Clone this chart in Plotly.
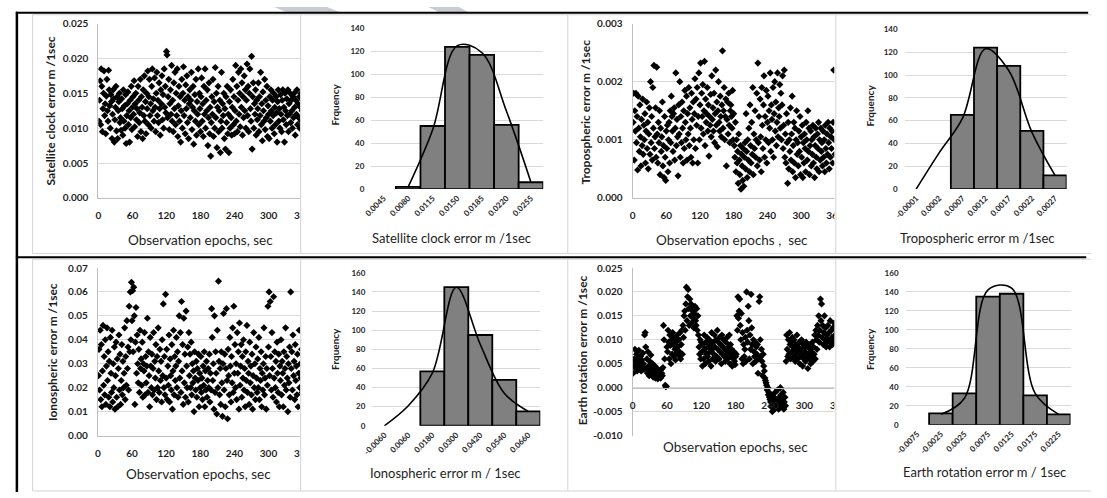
import plotly.graph_objects as go

# ---------------- data ----------------
epochs = list(range(1, 361))

# satellite clock error, units of 1e-4 m
sat_clock_e4 = [
    110,140,168,105,185,160,95,128,150,182,118,135,92,146,170,125,110,183,155,132,
    100,148,138,85,120,155,142,80,112,130,160,96,145,85,125,138,150,108,115,97,
    142,128,90,155,110,132,100,148,78,118,135,152,105,125,80,140,115,160,98,130,
    145,120,168,102,135,150,112,128,88,160,140,108,122,170,95,145,130,85,155,118,
    175,110,138,92,150,128,182,105,145,170,118,135,100,160,185,125,142,110,172,130,
    95,150,180,118,140,108,165,128,90,155,135,175,112,148,100,185,130,160,122,210,
    205,115,145,170,98,135,155,120,190,110,140,95,165,128,180,105,150,118,185,88,
    132,160,110,145,80,125,170,100,150,188,118,140,92,162,128,175,108,145,85,135,
    155,115,140,180,98,130,160,77,125,148,110,170,90,138,120,185,105,150,128,95,
    145,172,110,135,88,160,120,185,100,140,125,155,75,115,165,92,130,60,108,145,
    120,170,88,138,100,187,115,150,72,130,160,95,125,140,65,110,180,100,135,118,
    150,85,128,70,145,108,160,92,120,65,138,100,155,115,90,130,170,105,145,92,
    125,190,110,160,95,140,180,120,150,102,185,130,165,90,145,115,175,125,155,100,
    140,192,118,160,95,150,185,128,110,203,70,145,165,100,135,120,155,90,140,112,
    128,165,95,145,118,180,105,135,82,152,125,110,170,98,140,115,160,88,132,120,
    85,145,110,155,125,100,140,118,150,92,130,105,145,122,80,138,155,110,128,100,
    148,120,95,140,155,112,130,80,150,125,105,142,118,155,95,135,120,150,108,140,
    125,100,145,115,150,130,90,140,120,155,105,135,115,145,100,130,150,110,125,140,
]

# tropospheric error, units of 1e-5 m
tropo_e5 = [
    130,180,65,150,115,180,95,140,48,175,120,80,160,105,55,135,90,170,75,125,
    100,145,60,115,165,85,130,50,110,155,75,200,95,140,65,190,120,228,85,105,
    155,70,225,110,60,130,95,150,40,120,80,105,165,55,90,35,140,70,30,115,
    85,125,45,100,130,60,150,95,175,140,115,80,145,155,65,120,215,90,135,105,
    38,160,110,200,70,140,95,165,120,60,150,85,185,130,100,175,65,145,110,190,
    90,155,120,70,180,135,60,165,100,145,205,85,170,125,190,60,140,215,100,160,
    232,120,180,140,195,110,150,235,90,170,130,145,190,115,160,72,140,125,178,105,
    210,135,155,115,180,95,145,220,125,165,88,150,200,130,115,175,140,105,160,253,
    120,150,190,100,140,170,55,135,165,110,180,125,95,150,160,140,120,185,100,145,
    90,70,130,45,100,60,80,25,110,65,40,90,15,75,55,30,85,20,70,95,
    50,145,80,35,100,65,120,45,160,90,60,130,75,190,40,110,85,150,70,100,
    180,55,232,95,140,65,170,105,45,190,125,85,160,210,70,140,100,185,60,130,
    175,95,150,120,215,80,160,135,100,190,70,145,200,115,165,90,130,215,105,155,
    140,195,120,180,100,160,210,85,125,220,70,110,60,145,95,25,130,50,100,80,
    155,65,110,175,45,90,130,60,120,35,100,150,75,95,55,115,80,140,40,105,
    70,125,35,95,60,110,85,45,130,100,65,150,80,120,40,90,115,55,100,75,
    125,60,105,35,90,120,70,50,110,85,130,45,100,65,120,80,95,55,115,70,
    100,45,125,85,60,110,75,130,95,50,120,70,105,85,115,60,130,220,100,75,
]

# ionospheric error, units of 1e-4 m
iono_e4 = [
    250,360,190,440,150,380,120,270,460,210,330,170,400,130,290,450,230,350,160,310,
    120,410,260,180,440,140,300,200,370,110,250,390,160,320,120,280,420,190,340,130,
    230,380,170,310,200,260,450,150,330,210,480,280,370,190,540,350,600,400,640,480,
    605,350,620,500,130,390,535,260,420,300,220,360,180,440,280,320,210,390,160,300,
    270,430,170,330,220,290,490,180,350,250,120,410,290,200,340,170,280,430,190,310,
    240,380,150,330,200,450,270,180,360,230,310,140,400,250,550,200,330,170,590,240,
    360,150,290,210,420,140,320,250,190,380,110,270,440,170,330,230,290,410,200,350,
    160,310,500,240,430,180,560,270,380,130,490,220,340,160,520,290,200,370,140,430,
    250,340,200,390,170,300,220,270,100,350,240,190,310,160,280,230,340,120,260,200,
    330,180,240,150,290,210,350,120,270,190,310,160,230,280,200,340,140,260,190,530,
    410,230,300,110,500,180,350,260,90,440,200,645,310,170,280,130,350,220,80,300,
    510,190,340,120,280,530,230,70,360,250,170,410,290,140,330,220,450,180,540,260,
    380,200,300,150,430,260,350,110,470,210,290,380,160,330,240,400,190,280,120,350,
    230,460,180,310,260,130,390,220,290,170,340,110,250,430,200,300,150,370,240,180,
    320,200,410,150,280,230,350,120,260,190,300,450,170,240,330,110,280,210,540,370,
    600,250,560,330,190,430,280,160,580,240,350,200,310,140,390,260,180,340,120,290,
    230,400,170,310,260,120,350,210,280,450,190,330,240,100,300,220,370,160,600,280,
    350,190,420,250,310,150,380,230,290,170,340,120,260,440,200,300,240,360,180,270,
]

# earth rotation error, units of 1e-4 m
earth_e4 = [
    30,45,60,80,55,40,70,35,62,48,78,52,40,65,35,58,44,72,50,38,
    110,115,85,40,60,30,75,45,25,55,35,68,42,28,50,22,36,30,45,20,
    32,26,40,18,30,24,35,28,20,38,30,25,42,130,100,60,5,2,3,85,
    75,120,95,60,110,88,50,100,70,115,90,65,105,80,58,95,72,110,85,68,
    100,75,115,60,90,120,70,130,105,150,160,120,175,210,140,190,205,165,130,185,
    150,175,135,170,160,145,125,155,170,140,130,165,120,150,110,85,70,100,60,95,
    75,45,90,60,110,80,50,95,70,105,65,85,55,100,75,90,45,115,80,60,
    95,70,110,85,55,100,65,120,80,95,60,105,75,90,50,110,70,85,100,65,
    80,55,95,70,105,60,85,75,110,50,90,65,80,45,70,60,75,55,48,65,
    70,150,120,190,145,160,185,130,100,155,60,115,50,90,65,80,105,55,200,120,
    95,170,140,60,110,80,195,125,90,50,100,75,65,95,55,85,70,90,30,60,
    180,190,100,65,80,55,25,70,45,35,20,15,10,5,-5,0,-15,-10,-20,-25,
    -30,-40,-15,-50,-25,-35,-20,-45,-10,-30,-40,-25,-5,-35,-45,-20,-30,0,-15,-40,
    -25,-35,-10,-45,-30,-20,-38,55,110,80,65,100,70,115,90,60,95,75,105,85,
    65,100,80,55,90,70,110,60,85,75,95,50,80,65,100,70,45,90,60,85,
    75,55,95,65,85,40,70,90,60,80,50,75,65,95,55,85,70,110,60,120,
    100,80,130,110,150,95,120,185,140,175,105,130,90,115,150,100,125,85,110,95,
    130,100,115,85,140,95,120,105,90,125,100,135,110,95,120,105,130,100,115,90,
]

scatter_xticks = [0, 60, 120, 180, 240, 300, 360]
sat_yticks = [0.000, 0.005, 0.010, 0.015, 0.020, 0.025]
sat_yticktext = ["0.000", "0.005", "0.010", "0.015", "0.020", "0.025"]
tropo_yticks = [0.000, 0.001, 0.002, 0.003]
tropo_yticktext = ["0.000", "0.001", "0.002", "0.003"]
iono_yticks = [0.00, 0.01, 0.02, 0.03, 0.04, 0.05, 0.06, 0.07]
iono_yticktext = ["0.00", "0.01", "0.02", "0.03", "0.04", "0.05", "0.06", "0.07"]
earth_yticks = [-0.010, -0.005, 0.000, 0.005, 0.010, 0.015, 0.020, 0.025]
earth_yticktext = ["-0.010", "-0.005", "0.000", "0.005", "0.010", "0.015", "0.020", "0.025"]

sat_bins = ["0.0045", "0.0080", "0.0115", "0.0150", "0.0185", "0.0220", "0.0255"]
sat_freq = [0, 2, 55, 124, 117, 56, 6]
sat_curve = [None, 2, 52, 125, 119, 68, 6]

tropo_bins = ["-0.0001", "0.0002", "0.0007", "0.0012", "0.0017", "0.0022", "0.0027"]
tropo_freq = [0, 0, 65, 124, 108, 51, 12]
tropo_curve = [0, 32, 62, 123, 104, 50, 12]

iono_bins = ["-0.0060", "0.0060", "0.0180", "0.0300", "0.0420", "0.0540", "0.0660"]
iono_freq = [0, 0, 57, 145, 95, 48, 15]
iono_curve = [0, 21, 55, 145, 85, 34, 15]

earth_bins = ["-0.0075", "-0.0025", "0.0025", "0.0075", "0.0125", "0.0175", "0.0225"]
earth_freq = [0, 12, 33, 135, 138, 31, 11]
earth_curve = [None, 11, 28, 142, 144, 33, 11]

freq_ticks_140 = [0, 20, 40, 60, 80, 100, 120, 140]
freq_ticks_160 = [0, 20, 40, 60, 80, 100, 120, 140, 160]

# ---------------- helpers ----------------
W, H = 1107, 498


def px(x):
    return x / W


def py(y):
    return 1 - y / H


FONT = "Lato"
GRIDC = "#d9d9d9"
TXT = "#1e1e1e"
TICKF = dict(family=FONT, size=10, color=TXT, weight="bold")
HTICKF = dict(family=FONT, size=8, color=TXT, weight="bold")

fig = go.Figure()
layout_axes = {}


def scatter_panel(n, ys, scale, xdom, ydom, yr, ytv, ytt, xpos=None):
    ax = "" if n == 1 else str(n)
    fig.add_trace(go.Scatter(
        x=epochs, y=[v * scale for v in ys], mode="markers",
        marker=dict(symbol="diamond", size=5.5, color="black", line=dict(width=0)),
        xaxis="x" + ax, yaxis="y" + ax, showlegend=False, hoverinfo="skip"))
    xa = dict(domain=[px(xdom[0]), px(xdom[1])], range=[0, 360], tickmode="array",
              tickvals=scatter_xticks, ticktext=[str(t) for t in scatter_xticks],
              showgrid=False, zeroline=False, showline=True, linecolor="#bfbfbf",
              linewidth=1, ticks="", tickfont=TICKF, ticklabelstandoff=8,
              anchor="y" + ax, fixedrange=True)
    if xpos is not None:
        xa.update(anchor="free", position=py(xpos))
    ya = dict(domain=[py(ydom[1]), py(ydom[0])], range=yr, tickmode="array",
              tickvals=ytv, ticktext=ytt, showgrid=True, gridcolor=GRIDC,
              gridwidth=1, zeroline=False, showline=True, linecolor="#bfbfbf",
              ticks="", tickfont=TICKF, ticklabelstandoff=7,
              anchor="x" + ax, fixedrange=True)
    layout_axes["xaxis" + ax] = xa
    layout_axes["yaxis" + ax] = ya


def hist_panel(n, bins, freq, curve, xdom, ydom, ymax, ytv):
    ax = str(n)
    fig.add_trace(go.Bar(
        x=bins, y=[f if f else None for f in freq], width=1,
        marker=dict(color="#808080", line=dict(color="black", width=1.8)),
        xaxis="x" + ax, yaxis="y" + ax, showlegend=False, hoverinfo="skip"))
    cx = [b for b, c in zip(bins, curve) if c is not None]
    cy = [c for c in curve if c is not None]
    fig.add_trace(go.Scatter(
        x=cx, y=cy, mode="lines",
        line=dict(color="black", width=1.6, shape="spline", smoothing=1.0),
        xaxis="x" + ax, yaxis="y" + ax, showlegend=False, hoverinfo="skip"))
    layout_axes["xaxis" + ax] = dict(
        domain=[px(xdom[0]), px(xdom[1])], type="category",
        categoryorder="array", categoryarray=bins, range=[-0.5, 6.5],
        tickangle=-45, tickfont=HTICKF, showgrid=False, zeroline=False,
        showline=False, ticks="", ticklabelstandoff=2, anchor="y" + ax, fixedrange=True)
    layout_axes["yaxis" + ax] = dict(
        domain=[py(ydom[1]), py(ydom[0])], range=[0, ymax], tickmode="array",
        tickvals=ytv, showgrid=True, gridcolor=GRIDC, zeroline=False,
        showline=False, ticks="", tickfont=HTICKF, ticklabelstandoff=6,
        anchor="x" + ax, fixedrange=True)


# panels
scatter_panel(1, sat_clock_e4, 1e-4, (89, 297), (17, 196), [0, 0.025], sat_yticks, sat_yticktext)
hist_panel(2, sat_bins, sat_freq, sat_curve, (367, 542), (22, 187), 140, freq_ticks_140)
scatter_panel(3, tropo_e5, 1e-5, (633, 839), (17, 196), [0, 0.003], tropo_yticks, tropo_yticktext)
hist_panel(4, tropo_bins, tropo_freq, tropo_curve, (910, 1075), (23, 187), 140, freq_ticks_140)
scatter_panel(5, iono_e4, 1e-4, (88.5, 297), (268, 440), [0, 0.07], iono_yticks, iono_yticktext)
hist_panel(6, iono_bins, iono_freq, iono_curve, (368, 539), (273, 430), 160, freq_ticks_160)
scatter_panel(7, earth_e4, 1e-4, (633, 843), (268, 440), [-0.010, 0.025], earth_yticks,
              earth_yticktext, xpos=391)
hist_panel(8, earth_bins, earth_freq, earth_curve, (911, 1079), (273, 429), 160, freq_ticks_160)

# ---------------- shapes ----------------
shapes = []


def rect(x0, y0, x1, y1, fill):
    shapes.append(dict(type="rect", xref="paper", yref="paper",
                       x0=px(x0), x1=px(x1), y0=py(y1), y1=py(y0), layer="above",
                       fillcolor=fill, line=dict(width=0)))


def hline(x0, x1, y, color, lw):
    shapes.append(dict(type="line", xref="paper", yref="paper", x0=px(x0), x1=px(x1),
                       y0=py(y), y1=py(y), layer="above", line=dict(color=color, width=lw)))


def vline(x, y0, y1, color, lw):
    shapes.append(dict(type="line", xref="paper", yref="paper", x0=px(x), x1=px(x),
                       y0=py(y0), y1=py(y1), layer="above", line=dict(color=color, width=lw)))


# watermark fragments at the top edge
for pts in [[(268, 0), (322, 0), (336, 6), (282, 6)], [(425, 0), (456, 0), (467, 6), (437, 6)]]:
    path = "M " + " L ".join(f"{px(x)},{py(y)}" for x, y in pts) + " Z"
    shapes.append(dict(type="path", xref="paper", yref="paper", path=path, layer="above",
                       fillcolor="#c9ccd3", line=dict(width=0)))

# white covers hiding the right part of the scatter charts (overlapped by neighbours)
rect(294.5, 8, 322, 253, "white")
rect(294.5, 259, 322, 497, "white")
rect(838.5, 8, 866, 253, "white")
rect(838.5, 259, 866, 497, "white")

# chart frames (left, top, bottom edges; right edges hidden by neighbour)
PB = "#d4d4d4"
for x0, x1 in [(22, 295), (295, 567), (567, 840), (840, 1100)]:
    for y0, y1 in [(8, 253), (259, 497)]:
        vline(x0, y0, y1, PB, 1)
        hline(x0, x1, y0, PB, 1)
        hline(x0, x1, y1, PB, 1)

# table rules
vline(6, 5, 498, "black", 2.5)
hline(5, 1097, 6, "black", 2)
hline(5, 1095, 257, "black", 2)

# ---------------- titles ----------------
annotations = []


def label(text, x, y, size, angle=0, weight="normal"):
    annotations.append(dict(text=text, x=px(x), y=py(y), xref="paper", yref="paper",
                            showarrow=False, xanchor="center", yanchor="middle",
                            textangle=angle,
                            font=dict(family=FONT, size=size, color=TXT, weight=weight)))


label("Satellite clock error m /1sec", 40, 107, 12, -90, "bold")
label("Observation epochs, sec", 193, 239, 13.5)
label("Frquency", 330, 100, 10, -90, "bold")
label("Satellite clock error m /1sec", 449, 237, 13)
label("Tropospheric error m /1sec", 585, 108, 12, -90, "bold")
label("Observation epochs ,  sec", 734, 239, 13.5)
label("Frquency", 875, 101, 10, -90, "bold")
label("Tropospheric error m /1sec", 984, 237, 13)
label("Ionospheric error m /1sec", 43, 354, 12, -90, "bold")
label("Observation epochs, sec", 191, 480, 13.5)
label("Frquency", 330, 351, 10, -90, "bold")
label("Ionospheric error m / 1sec", 442, 478, 13)
label("Earth rotation error m /1sec", 582, 352, 12, -90, "bold")
label("Observation epochs, sec", 738, 452, 13.5)
label("Frquency", 875, 351, 10, -90, "bold")
label("Earth rotation error m / 1sec", 991, 477, 13)

fig.update_layout(
    width=W, height=H, margin=dict(l=0, r=0, t=0, b=0),
    paper_bgcolor="white", plot_bgcolor="white", bargap=0,
    showlegend=False, shapes=shapes, annotations=annotations,
    font=dict(family=FONT, color=TXT), **layout_axes)

fig.write_html(
    "out.html",
    config={"displayModeBar": False, "staticPlot": True},
    post_script="document.body.style.margin='0px';document.body.style.overflow='hidden';")
